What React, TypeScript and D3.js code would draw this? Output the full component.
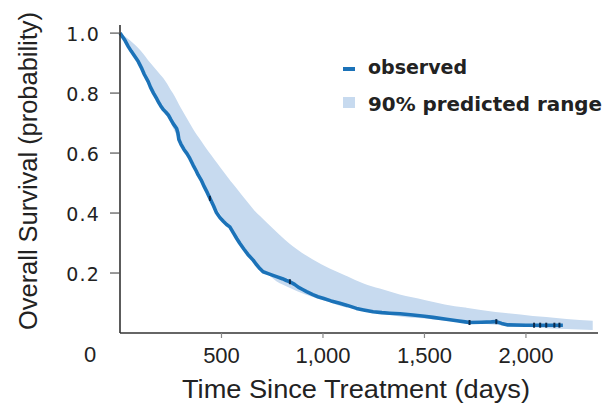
import React from "react";
import * as d3 from "d3";

// ---- data ----
const obsTime = [0,10,25,41,55,70,90,105,120,139,150,165,180,189,200,213,225,238,250,262,279,285,290,300,315,330,344,360,375,385,400,415,430,443,460,475,492,510,525,541,560,575,590,610,630,656,670,690,705,730,750,771,800,820,837,860,880,900,919,950,975,1000,1040,1083,1120,1165,1200,1247,1290,1329,1380,1443,1500,1542,1608,1660,1700,1722,1780,1830,1854,1880,1911,2000,2100,2182];
const obsSurv = [1.0,0.99,0.975,0.955,0.94,0.925,0.905,0.885,0.862,0.838,0.82,0.8,0.782,0.771,0.758,0.745,0.737,0.727,0.712,0.698,0.682,0.668,0.645,0.63,0.612,0.598,0.582,0.56,0.541,0.527,0.51,0.488,0.468,0.449,0.425,0.402,0.385,0.372,0.362,0.354,0.332,0.315,0.299,0.28,0.262,0.243,0.23,0.214,0.204,0.198,0.193,0.188,0.181,0.175,0.171,0.162,0.152,0.145,0.138,0.128,0.121,0.116,0.107,0.099,0.092,0.082,0.077,0.071,0.068,0.066,0.064,0.06,0.056,0.052,0.046,0.041,0.037,0.035,0.036,0.037,0.038,0.032,0.027,0.026,0.026,0.026];

const censorTime = [443, 837, 1722, 1854, 2040, 2070, 2100, 2140, 2165];
const censorSurv = [0.449, 0.171, 0.035, 0.038, 0.026, 0.026, 0.026, 0.026, 0.026];

const upperTime = [0,50,100,150,213,260,300,360,420,480,541,600,660,720,790,870,950,1033,1117,1200,1280,1378,1500,1600,1706,1850,2034,2200,2329];
const upperSurv = [1.0,0.975,0.943,0.9,0.85,0.8,0.75,0.68,0.62,0.565,0.51,0.46,0.41,0.37,0.325,0.28,0.245,0.215,0.19,0.165,0.148,0.128,0.11,0.095,0.084,0.07,0.057,0.047,0.041];

const lowerTime = [0,50,100,150,200,250,300,350,400,450,500,550,600,650,700,787,870,950,1116,1200,1378,1500,1700,1900,2100,2329];
const lowerSurv = [1.0,0.95,0.9,0.83,0.755,0.7,0.63,0.57,0.505,0.44,0.39,0.34,0.29,0.245,0.21,0.166,0.14,0.12,0.085,0.075,0.055,0.048,0.035,0.025,0.016,0.01];

const xTicks = [500, 1000, 1500, 2000];
const xTickLabels = ["500", "1,000", "1,500", "2,000"];
const yTicks = [0.2, 0.4, 0.6, 0.8, 1.0];
const yTickLabels = ["0.2", "0.4", "0.6", "0.8", "1.0"];

const W = 603, H = 405;
const x = d3.scaleLinear().domain([0, 2355]).range([120, 598]);
const y = d3.scaleLinear().domain([0, 1.027]).range([333, 25]);

export default function App() {
  const upper = upperTime.map((t, i) => [t, upperSurv[i]] as [number, number]);
  const lower = lowerTime.map((t, i) => [t, lowerSurv[i]] as [number, number]);
  // band polygon: upper forward, lower backward
  const upperLine = d3.line<[number, number]>().x(d => x(d[0])).y(d => y(d[1])).curve(d3.curveMonotoneX);
  const lowerLine = d3.line<[number, number]>().x(d => x(d[0])).y(d => y(d[1])).curve(d3.curveMonotoneX);
  const upPath = upperLine(upper) as string;
  const lowRev = lowerLine(lower.slice().reverse().map(d => d)) ;
  // build band with area by sampling
  const bandPts: [number, number][] = [];
  const fU = (t: number) => {
    const i = d3.bisectRight(upperTime, t);
    if (i <= 0) return upperSurv[0];
    if (i >= upperTime.length) return upperSurv[upperSurv.length - 1];
    const t0 = upperTime[i - 1], t1 = upperTime[i];
    return upperSurv[i - 1] + (upperSurv[i] - upperSurv[i - 1]) * (t - t0) / (t1 - t0);
  };
  const fL = (t: number) => {
    const i = d3.bisectRight(lowerTime, t);
    if (i <= 0) return lowerSurv[0];
    if (i >= lowerTime.length) return lowerSurv[lowerSurv.length - 1];
    const t0 = lowerTime[i - 1], t1 = lowerTime[i];
    return lowerSurv[i - 1] + (lowerSurv[i] - lowerSurv[i - 1]) * (t - t0) / (t1 - t0);
  };
  const allT = Array.from(new Set([...upperTime, ...lowerTime])).sort((a, b) => a - b);
  const area = d3.area<number>()
    .x(t => x(t))
    .y0(t => y(fL(t)))
    .y1(t => y(fU(t)))
    .curve(d3.curveMonotoneX);
  void upPath; void lowRev; void bandPts;

  const obs = obsTime.map((t, i) => [t, obsSurv[i]] as [number, number]);
  const obsLine = d3.line<[number, number]>().x(d => x(d[0])).y(d => y(d[1]));

  const tickFont = "'Liberation Sans', Arial, sans-serif";
  return (
    <svg width={W} height={H} style={{ position: "absolute", left: 0, top: 0, background: "#fff" }}>
      <path d={area(allT) as string} fill="#c7daef" />
      <path d={obsLine(obs) as string} fill="none" stroke="#1b72b8" strokeWidth={3.6} strokeLinejoin="round" />
      {censorTime.map((t, i) => (
        <line key={i} x1={x(t)} x2={x(t)} y1={y(censorSurv[i]) - 2.5} y2={y(censorSurv[i]) + 2.5} stroke="#0d2a4a" strokeWidth={2} />
      ))}
      {/* axes */}
      <line x1={x(0)} x2={x(0)} y1={y(1.027)} y2={y(0)} stroke="#333" strokeWidth={1.6} />
      <line x1={x(0)} x2={x(2355)} y1={y(0)} y2={y(0)} stroke="#333" strokeWidth={1.6} />
      {yTicks.map((v, i) => (
        <g key={i}>
          <line x1={x(0) - 10} x2={x(0)} y1={y(v)} y2={y(v)} stroke="#555" strokeWidth={1.2} />
          <text x={100} y={y(v) + 8} textAnchor="end" fontFamily="'DejaVu Sans', sans-serif" fontSize={19} letterSpacing={1.2} fill="#222">{yTickLabels[i]}</text>
        </g>
      ))}
      {xTicks.map((v, i) => (
        <g key={i}>
          <line x1={x(v)} x2={x(v)} y1={y(0)} y2={y(0) + 5} stroke="#888" strokeWidth={1.2} />
          <text x={x(v)} y={363} textAnchor="middle" fontFamily={tickFont} fontSize={22} fill="#222">{xTickLabels[i]}</text>
        </g>
      ))}
      <text x={90} y={362} textAnchor="middle" fontFamily={tickFont} fontSize={22} fill="#222">0</text>
      <text x={356} y={398} textAnchor="middle" fontFamily={tickFont} fontSize={26} fill="#222" textLength={348} lengthAdjust="spacingAndGlyphs">Time Since Treatment (days)</text>
      <text transform={`translate(37,171) rotate(-90)`} textAnchor="middle" fontFamily={tickFont} fontSize={25} fill="#222" textLength={318} lengthAdjust="spacingAndGlyphs">Overall Survival (probability)</text>
      {/* legend */}
      <line x1={343} x2={355} y1={69} y2={69} stroke="#1b72b8" strokeWidth={4} />
      <text x={368} y={74} fontFamily="'DejaVu Sans', sans-serif" fontWeight="bold" fontSize={19} fill="#222">observed</text>
      <rect x={343} y={97} width={12} height={11} fill="#c7daef" />
      <text x={368} y={111} fontFamily="'DejaVu Sans', sans-serif" fontWeight="bold" fontSize={19} fill="#222" textLength={234} lengthAdjust="spacingAndGlyphs">90% predicted range</text>
    </svg>
  );
}
